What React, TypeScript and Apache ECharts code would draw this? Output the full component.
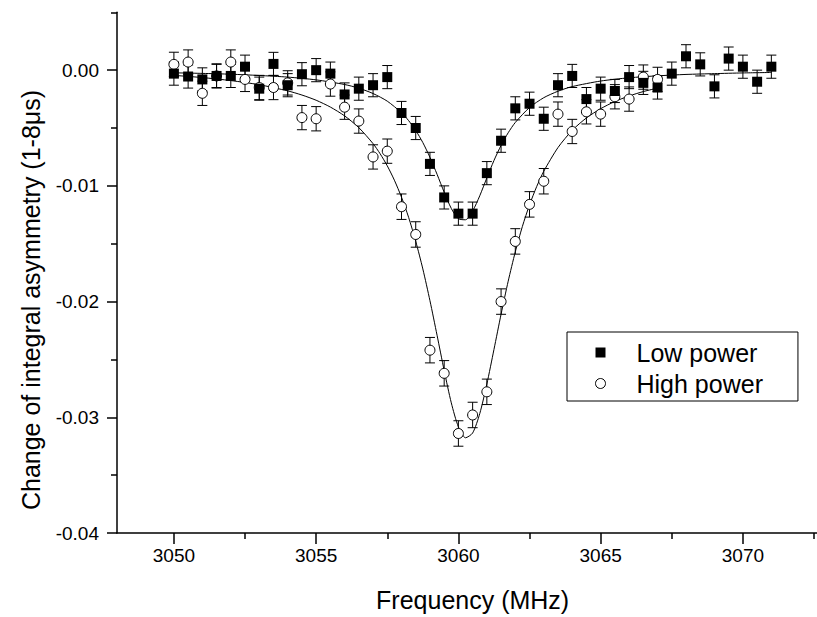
import React, { useEffect, useRef } from "react";
import * as echarts from "echarts";

const freqLow = [3050, 3050.5, 3051, 3051.5, 3052, 3052.5, 3053, 3053.5, 3054, 3054.5, 3055, 3055.5, 3056, 3056.5, 3057, 3057.5, 3058, 3058.5, 3059, 3059.5, 3060, 3060.5, 3061, 3061.5, 3062, 3062.5, 3063, 3063.5, 3064, 3064.5, 3065, 3065.5, 3066, 3066.5, 3067, 3067.5, 3068, 3068.5, 3069, 3069.5, 3070, 3070.5, 3071];
const lowPower = [-0.0003, -0.00055, -0.0008, -0.0005, -0.0005, 0.0003, -0.0016, 0.00054, -0.0013, -0.00035, 0.0, -0.0003, -0.0021, -0.0016, -0.0013, -0.0006, -0.0037, -0.005, -0.0081, -0.011, -0.0124, -0.0124, -0.0089, -0.0061, -0.0033, -0.0029, -0.0042, -0.0013, -0.0005, -0.0025, -0.0016, -0.0018, -0.0006, -0.0011, -0.0015, -0.0003, 0.0012, 0.0005, -0.0014, 0.001, 0.0003, -0.001, 0.0003];
const lowErr = [0.001, 0.001, 0.001, 0.001, 0.001, 0.001, 0.001, 0.001, 0.001, 0.001, 0.001, 0.001, 0.001, 0.001, 0.001, 0.001, 0.001, 0.001, 0.001, 0.001, 0.001, 0.001, 0.001, 0.001, 0.001, 0.001, 0.001, 0.001, 0.001, 0.001, 0.001, 0.001, 0.001, 0.001, 0.001, 0.001, 0.001, 0.001, 0.001, 0.001, 0.001, 0.001, 0.001];

const freqHigh = [3050, 3050.5, 3051, 3051.5, 3052, 3052.5, 3053, 3053.5, 3054, 3054.5, 3055, 3055.5, 3056, 3056.5, 3057, 3057.5, 3058, 3058.5, 3059, 3059.5, 3060, 3060.5, 3061, 3061.5, 3062, 3062.5, 3063, 3063.5, 3064, 3064.5, 3065, 3065.5, 3066, 3066.5, 3067];
const highPower = [0.0005, 0.0007, -0.002, -0.0005, 0.0007, -0.0008, -0.0015, -0.0015, -0.0011, -0.0041, -0.0042, -0.0012, -0.0032, -0.0044, -0.0075, -0.007, -0.0118, -0.0142, -0.0242, -0.0262, -0.0314, -0.0298, -0.0278, -0.02, -0.0148, -0.0116, -0.0096, -0.0038, -0.0053, -0.0036, -0.0038, -0.0023, -0.0025, -0.0006, -0.0008];
const highErr = [0.00105, 0.00105, 0.00105, 0.00105, 0.00105, 0.00105, 0.00105, 0.00105, 0.00105, 0.00105, 0.00105, 0.00105, 0.00105, 0.00105, 0.00105, 0.00105, 0.0011, 0.0011, 0.0011, 0.0011, 0.0011, 0.0011, 0.0011, 0.0011, 0.0011, 0.0011, 0.0011, 0.00105, 0.00105, 0.00105, 0.00105, 0.00105, 0.00105, 0.00105, 0.00105];

// fitted curves
const lowFitX = [3050, 3051, 3052, 3053, 3054, 3055, 3056, 3056.5, 3057, 3057.5, 3058, 3058.25, 3058.5, 3058.75, 3059, 3059.25, 3059.5, 3059.75, 3060, 3060.25, 3060.5, 3060.75, 3061, 3061.25, 3061.5, 3061.75, 3062, 3062.5, 3063, 3063.5, 3064, 3065, 3066, 3067, 3068, 3069, 3070, 3071];
const lowFitY = [-0.00023, -0.00028, -0.00035, -0.00046, -0.0006, -0.00084, -0.00124, -0.00156, -0.00202, -0.00268, -0.00368, -0.00436, -0.00521, -0.00626, -0.00753, -0.009, -0.01055, -0.01195, -0.01284, -0.01293, -0.01218, -0.01086, -0.00931, -0.00781, -0.0065, -0.00541, -0.00452, -0.00323, -0.00238, -0.00182, -0.00142, -0.00094, -0.00066, -0.00049, -0.00037, -0.0003, -0.00024, -0.0002];

const highFitX = [3050, 3051, 3052, 3053, 3054, 3054.5, 3055, 3055.5, 3056, 3056.5, 3057, 3057.25, 3057.5, 3057.75, 3058, 3058.25, 3058.5, 3058.75, 3059, 3059.25, 3059.5, 3059.75, 3060, 3060.25, 3060.5, 3060.75, 3061, 3061.25, 3061.5, 3061.75, 3062, 3062.25, 3062.5, 3062.75, 3063, 3063.5, 3064, 3064.5, 3065, 3065.5, 3066, 3066.5, 3067];
const highFitY = [-0.00045, -0.00064, -0.0009, -0.00126, -0.00179, -0.00215, -0.0026, -0.00319, -0.00395, -0.00497, -0.00635, -0.00723, -0.00827, -0.00951, -0.01098, -0.01272, -0.01479, -0.01718, -0.01992, -0.02291, -0.02596, -0.02875, -0.03083, -0.03177, -0.03136, -0.02969, -0.02713, -0.02414, -0.02109, -0.01824, -0.0157, -0.0135, -0.01164, -0.01007, -0.00874, -0.00669, -0.0052, -0.00413, -0.00333, -0.00271, -0.00223, -0.00185, -0.00155];

const xMajorTicks = [3050, 3055, 3060, 3065, 3070];
const xMinorTicks = [3052.5, 3057.5, 3062.5, 3067.5, 3072.5];
const yMajorTicks = [-0.04, -0.03, -0.02, -0.01, 0];
const yMinorTicks = [-0.035, -0.025, -0.015, -0.005, 0.005];

const FONT = "'Liberation Sans', Arial, sans-serif";
const Y_TITLE = "Change of integral asymmetry (1-8μs)";

function errorBars(xs: number[], ys: number[], es: number[], name: string) {
  return {
    type: "custom",
    name: name + " err",
    silent: true,
    z: 2,
    data: xs.map((x, i) => [x, ys[i], es[i]]),
    encode: { x: 0, y: 1 },
    renderItem: (params: any, api: any) => {
      const x = api.value(0);
      const y = api.value(1);
      const e = api.value(2);
      const top = api.coord([x, y + e]);
      const bot = api.coord([x, y - e]);
      const hw = 5;
      const st = { stroke: "#000", lineWidth: 1 };
      return {
        type: "group",
        children: [
          { type: "line", shape: { x1: top[0], y1: top[1], x2: bot[0], y2: bot[1] }, style: st },
          { type: "line", shape: { x1: top[0] - hw, y1: top[1], x2: top[0] + hw, y2: top[1] }, style: st },
          { type: "line", shape: { x1: bot[0] - hw, y1: bot[1], x2: bot[0] + hw, y2: bot[1] }, style: st },
        ],
      };
    },
  };
}

export default function App() {
  const ref = useRef<HTMLDivElement>(null);
  useEffect(() => {
    if (!ref.current) return;
    const chart = echarts.init(ref.current, null, { renderer: "svg" });
    const axisLine = { show: true, onZero: false, lineStyle: { color: "#000", width: 1.5 } };
    chart.setOption({
      animation: false,
      backgroundColor: "#fff",
      textStyle: { fontFamily: FONT, color: "#000" },
      grid: { left: 117, top: 12.3, width: 711.25, height: 522, containLabel: false },
      graphic: [
        {
          type: "text",
          x: 31,
          y: 300,
          rotation: Math.PI / 2,
          style: {
            text: Y_TITLE,
            fill: "#000",
            font: "25px 'Liberation Sans', Arial, sans-serif",
            textAlign: "center",
            textVerticalAlign: "middle",
          },
        },
      ],
      legend: {
        left: 567,
        top: 332,
        orient: "vertical",
        borderColor: "#000",
        borderWidth: 1,
        padding: [8, 35, 5, 28],
        itemGap: 6,
        itemWidth: 10,
        itemHeight: 10,
        selectedMode: false,
        textStyle: { fontFamily: FONT, fontSize: 25, color: "#000", lineHeight: 24, padding: [0, 0, 0, 26] },
        data: [
          { name: "Low power", icon: "rect", itemStyle: { color: "#000", borderWidth: 0 } },
          { name: "High power", icon: "circle", itemStyle: { color: "#fff", borderColor: "#000", borderWidth: 1 } },
        ],
      },
      xAxis: [
        {
          type: "value",
          min: 3048,
          max: 3073,
          position: "bottom",
          name: "Frequency (MHz)",
          nameLocation: "middle",
          nameGap: 54,
          nameTextStyle: { fontFamily: FONT, fontSize: 25, color: "#000" },
          axisLine,
          axisTick: { show: true, length: 11, customValues: xMajorTicks, lineStyle: { color: "#000", width: 1.5 } },
          axisLabel: { show: true, customValues: xMajorTicks, margin: 13, fontSize: 19, color: "#000", fontFamily: FONT, formatter: (v: number) => String(v) },
          splitLine: { show: false },
        },
        {
          type: "value",
          min: 3048,
          max: 3073,
          position: "bottom",
          axisLine: { show: false, onZero: false },
          axisTick: { show: true, length: 6, customValues: xMinorTicks, lineStyle: { color: "#000", width: 1.5 } },
          axisLabel: { show: false },
          splitLine: { show: false },
        },
      ],
      yAxis: [
        {
          type: "value",
          min: -0.04,
          max: 0.005,
          position: "left",
          axisLine,
          axisTick: { show: true, length: 10, customValues: yMajorTicks, lineStyle: { color: "#000", width: 1.5 } },
          axisLabel: { show: true, customValues: yMajorTicks, margin: 18, fontSize: 19, color: "#000", fontFamily: FONT, formatter: (v: number) => v.toFixed(2) },
          splitLine: { show: false },
        },
        {
          type: "value",
          min: -0.04,
          max: 0.005,
          position: "left",
          offset: 0,
          axisLine: { show: false, onZero: false },
          axisTick: { show: true, length: 6, customValues: yMinorTicks, lineStyle: { color: "#000", width: 1.5 } },
          axisLabel: { show: false },
          splitLine: { show: false },
        },
      ],
      series: [
        {
          type: "line",
          name: "Low fit",
          data: lowFitX.map((x, i) => [x, lowFitY[i]]),
          showSymbol: false,
          smooth: 0.25,
          silent: true,
          z: 1,
          lineStyle: { color: "#000", width: 1 },
        },
        {
          type: "line",
          name: "High fit",
          data: highFitX.map((x, i) => [x, highFitY[i]]),
          showSymbol: false,
          smooth: 0.25,
          silent: true,
          z: 1,
          lineStyle: { color: "#000", width: 1 },
        },
        errorBars(freqHigh, highPower, highErr, "High power"),
        errorBars(freqLow, lowPower, lowErr, "Low power"),
        {
          type: "scatter",
          name: "High power",
          data: freqHigh.map((x, i) => [x, highPower[i]]),
          symbol: "circle",
          symbolSize: 10,
          z: 3,
          itemStyle: { color: "#fff", borderColor: "#000", borderWidth: 1, opacity: 1 },
        },
        {
          type: "scatter",
          name: "Low power",
          data: freqLow.map((x, i) => [x, lowPower[i]]),
          symbol: "rect",
          symbolSize: 10,
          z: 4,
          itemStyle: { color: "#000", opacity: 1 },
        },
      ],
    });
    return () => chart.dispose();
  }, []);
  return (
    <div style={{ position: "fixed", left: 0, top: 0, width: 817, height: 617, overflow: "hidden", background: "#fff" }}>
      <div ref={ref} style={{ width: 840, height: 617 }} />
    </div>
  );
}
